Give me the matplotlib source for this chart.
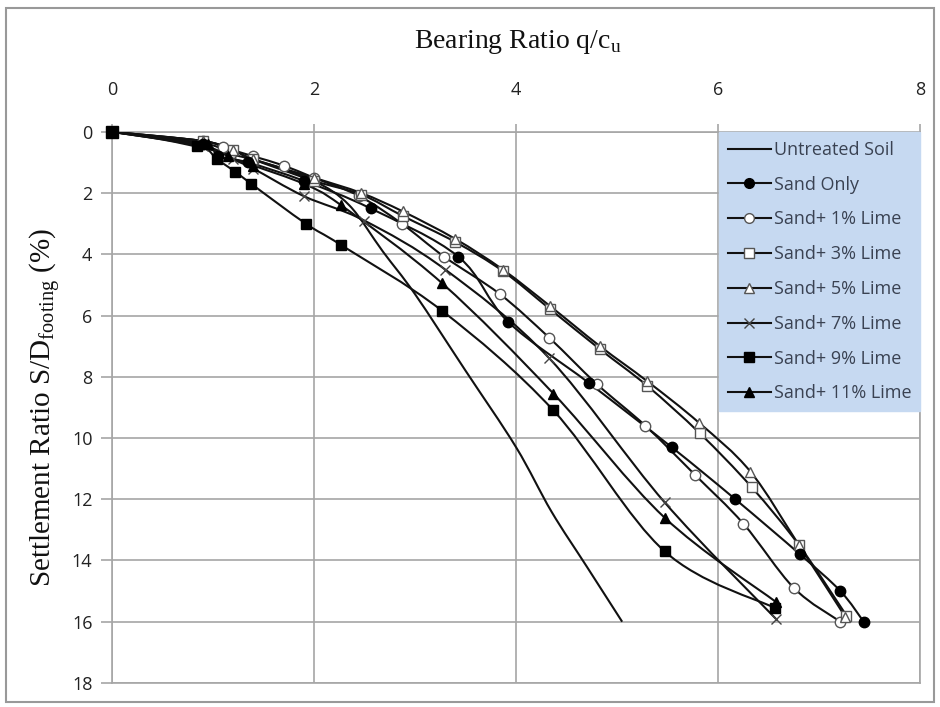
import matplotlib
matplotlib.use("Agg")
import matplotlib.pyplot as plt
import numpy as np
from matplotlib.path import Path
from matplotlib.patches import PathPatch, Rectangle
from matplotlib.lines import Line2D

# values (q/cu, S/D %)
untreated_x = [0, 0.5, 1.0, 1.5, 2.0, 2.35, 2.68, 3.0, 3.5, 4.0, 4.35, 4.7, 5.05]
untreated_y = [0, 0.25, 0.6, 1.0, 1.6, 2.4, 3.9, 5.3, 7.8, 10.3, 12.4, 14.2, 16.0]

sand_x = [0, 0.9, 1.05, 1.35, 1.9, 2.56, 3.43, 3.92, 4.72, 5.54, 6.17, 6.81, 7.21, 7.44]
sand_y = [0, 0.4, 0.8, 1.0, 1.6, 2.5, 4.08, 6.2, 8.2, 10.3, 12.0, 13.8, 15.0, 16.0]

lime1_x = [0, 0.9, 1.1, 1.4, 1.7, 2.0, 2.45, 2.87, 3.29, 3.84, 4.33, 4.8, 5.28, 5.77, 6.25, 6.75, 7.21]
lime1_y = [0, 0.3, 0.5, 0.8, 1.1, 1.5, 2.1, 3.0, 4.08, 5.3, 6.73, 8.24, 9.6, 11.2, 12.8, 14.9, 16.0]

lime3_x = [0, 0.9, 1.2, 1.4, 2.0, 2.47, 2.88, 3.4, 3.87, 4.34, 4.83, 5.3, 5.82, 6.33, 6.8, 7.27]
lime3_y = [0, 0.3, 0.6, 0.9, 1.6, 2.05, 2.75, 3.6, 4.55, 5.8, 7.1, 8.3, 9.85, 11.6, 13.5, 15.8]

lime5_x = [0, 0.9, 1.2, 1.4, 2.0, 2.47, 2.88, 3.4, 3.87, 4.34, 4.83, 5.3, 5.81, 6.32, 6.8, 7.26]
lime5_y = [0, 0.3, 0.6, 0.9, 1.5, 2.0, 2.6, 3.5, 4.5, 5.7, 7.0, 8.15, 9.5, 11.1, 13.5, 15.85]

lime7_x = [0, 0.9, 1.2, 1.4, 1.9, 2.5, 3.3, 4.33, 5.47, 6.57]
lime7_y = [0, 0.45, 0.9, 1.2, 2.1, 2.9, 4.5, 7.4, 12.1, 15.9]

lime9_x = [0, 0.84, 1.04, 1.22, 1.38, 1.92, 2.27, 3.27, 4.37, 5.47, 6.56]
lime9_y = [0, 0.45, 0.9, 1.3, 1.7, 3.0, 3.7, 5.85, 9.1, 13.7, 15.55]

lime11_x = [0, 0.95, 1.15, 1.4, 1.9, 2.27, 3.27, 4.37, 5.47, 6.57]
lime11_y = [0, 0.4, 0.8, 1.1, 1.7, 2.4, 4.95, 8.55, 12.6, 15.35]

labels = ['Untreated Soil', 'Sand Only', 'Sand+ 1% Lime', 'Sand+ 3% Lime',
          'Sand+ 5% Lime', 'Sand+ 7% Lime', 'Sand+ 9% Lime', 'Sand+ 11% Lime']

x_ticks = [0, 2, 4, 6, 8]
y_ticks = [0, 2, 4, 6, 8, 10, 12, 14, 16, 18]

series = [
    (untreated_x, untreated_y, None, 'k'),
    (sand_x, sand_y, 'o', 'k'),
    (lime1_x, lime1_y, 'o', 'w'),
    (lime3_x, lime3_y, 's', 'w'),
    (lime5_x, lime5_y, '^', 'w'),
    (lime7_x, lime7_y, 'x', 'w'),
    (lime9_x, lime9_y, 's', 'k'),
    (lime11_x, lime11_y, '^', 'k'),
]


def smooth_path(xs, ys):
    # excel style smoothed line: cubic bezier between points
    p = np.column_stack([xs, ys]).astype(float)
    n = len(p)
    verts = [p[0]]
    codes = [Path.MOVETO]
    for i in range(n - 1):
        p0 = p[i - 1] if i > 0 else p[i]
        p3 = p[i + 2] if i + 2 < n else p[i + 1]
        c1 = p[i] + (p[i + 1] - p0) / 6.0
        c2 = p[i + 1] - (p3 - p[i]) / 6.0
        verts += [c1, c2, p[i + 1]]
        codes += [Path.CURVE4] * 3
    return Path(verts, codes)


fig = plt.figure(figsize=(9.4, 7.07), dpi=100)
ax = fig.add_axes([0.119, 0.034, 0.86, 0.7795])

grid_c = '#a6a6a6'
for xs, ys, m, fc in series:
    ax.add_patch(PathPatch(smooth_path(xs, ys), facecolor='none',
                           edgecolor='#111111', lw=1.5, zorder=3))
    if m is not None:
        if m == 'x':
            ax.plot(xs[1:], ys[1:], ls='none', marker='x', ms=7, mew=1.0,
                    color='#444444', zorder=4)
        elif fc == 'w':
            ax.plot(xs[1:], ys[1:], ls='none', marker=m, ms=7.5, mew=1.0,
                    mfc='white', mec='#555555', zorder=4)
        else:
            ax.plot(xs[1:], ys[1:], ls='none', marker=m, ms=7.5, mew=1.0,
                    mfc='black', mec='black', zorder=5)
ax.plot([0], [0], ls='none', marker='s', ms=8, color='black', zorder=6, clip_on=False)

ax.set_xlim(0, 8)
ax.set_ylim(18, 0)
ax.set_xticks(x_ticks)
ax.set_yticks(y_ticks)
ax.xaxis.tick_top()
ax.grid(True, color=grid_c, lw=1.2)
ax.set_axisbelow(True)
for s in ax.spines.values():
    s.set_color(grid_c)
    s.set_linewidth(1.2)

tick_font = ['Liberation Sans Narrow', 'Open Sans', 'DejaVu Sans']
ax.tick_params(axis='x', colors=grid_c, length=6, width=1.2, pad=18,
               labelcolor='#222222', labelsize=13)
ax.tick_params(axis='y', colors=grid_c, length=8, width=1.2, pad=6,
               labelcolor='#222222', labelsize=13)
for t in ax.get_xticklabels() + ax.get_yticklabels():
    t.set_family(tick_font)

fig.text(0.551, 0.94, 'Bearing Ratio q/c$_\\mathregular{u}$', family='Liberation Serif',
         fontsize=20, color='#111111', ha='center', va='center')
ax.set_ylabel('Settlement Ratio S/D$_\\mathregular{footing}$ (%)',
              family='Liberation Serif', fontsize=21, color='#111111', labelpad=6)

handles = []
for xs, ys, m, fc in series:
    if m is None:
        handles.append(Line2D([], [], color='#111111', lw=1.5))
    elif m == 'x':
        handles.append(Line2D([], [], color='#111111', lw=1.5, marker='x',
                              ms=7, mec='#444444'))
    elif fc == 'w':
        handles.append(Line2D([], [], color='#111111', lw=1.5, marker=m, ms=7,
                              mfc='white', mec='#555555'))
    else:
        handles.append(Line2D([], [], color='#111111', lw=1.5, marker=m, ms=7,
                              mfc='black', mec='black'))
leg = ax.legend(handles, labels, loc='upper right', bbox_to_anchor=(1.0, 1.0),
                borderaxespad=0, frameon=True, fancybox=False,
                prop={'family': tick_font, 'size': 13},
                labelspacing=0.93, handlelength=2.4, handletextpad=0.15,
                borderpad=0.5)
leg.get_frame().set_facecolor('#c6d9f1')
leg.get_frame().set_edgecolor('#c6d9f1')
leg.get_frame().set_alpha(1)
for t in leg.get_texts():
    t.set_color('#3a4252')
leg.set_zorder(10)

fig.patches.append(Rectangle((0.006, 0.007), 0.988, 0.981, transform=fig.transFigure,
                             fill=False, edgecolor='#999999', lw=1.5))

fig.savefig('out.png', dpi=100)
